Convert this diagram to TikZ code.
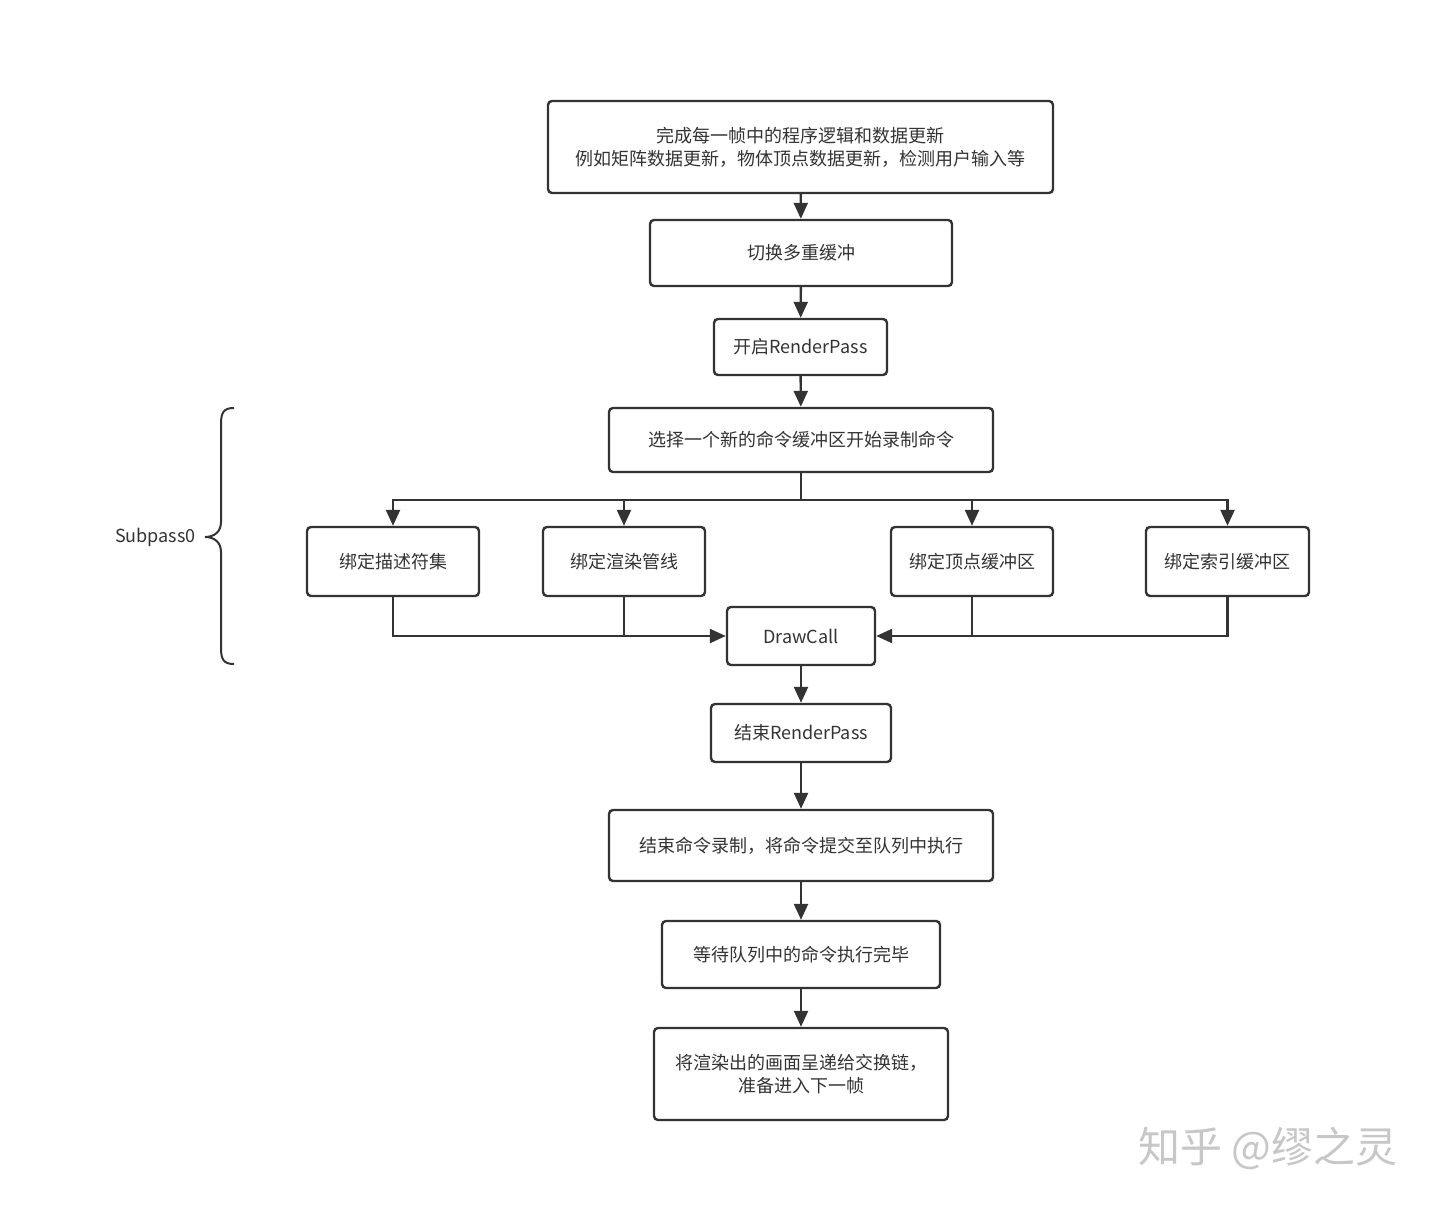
\documentclass[tikz,border=0pt]{standalone}
\usepackage{fontspec}
\setmainfont{Noto Sans CJK SC}
\newfontfamily\cjk{Noto Sans CJK SC}
\usetikzlibrary{arrows.meta}
\definecolor{ln}{HTML}{333333}
\begin{document}
\begin{tikzpicture}[x=1pt,y=-1pt,
  box/.style={draw=ln,line width=2.4pt,rounded corners=4pt,fill=white,inner sep=0pt,align=center,font=\fontsize{18}{23}\selectfont,text=ln},
  conn/.style={draw=ln,line width=2.4pt},
  arr/.style={conn,-{Triangle[length=16pt,width=14pt]}}]
\useasboundingbox (0,0) rectangle (1440,1206);
\fill[white] (0,0) rectangle (1440,1206);
\node[box,minimum width=505pt,minimum height=92pt] (n1) at (800.5,147) {完成每一帧中的程序逻辑和数据更新\\例如矩阵数据更新，物体顶点数据更新，检测用户输入等};
\node[box,minimum width=302pt,minimum height=66pt] (n2) at (801,253) {切换多重缓冲};
\node[box,minimum width=173pt,minimum height=56pt] (n3) at (800.5,347) {开启RenderPass};
\node[box,minimum width=384pt,minimum height=64pt] (n4) at (801,440) {选择一个新的命令缓冲区开始录制命令};
\node[box,minimum width=172pt,minimum height=69pt] (b1) at (393,561.5) {绑定描述符集};
\node[box,minimum width=162pt,minimum height=69pt] (b2) at (624,561.5) {绑定渲染管线};
\node[box,minimum width=162pt,minimum height=69pt] (b3) at (972,561.5) {绑定顶点缓冲区};
\node[box,minimum width=163pt,minimum height=69pt] (b4) at (1227.5,561.5) {绑定索引缓冲区};
\node[box,minimum width=148pt,minimum height=58pt] (dc) at (801,636) {DrawCall};
\node[box,minimum width=180pt,minimum height=58pt] (n5) at (801,733) {结束RenderPass};
\node[box,minimum width=384pt,minimum height=71pt] (n6) at (801,845.5) {结束命令录制，将命令提交至队列中执行};
\node[box,minimum width=278pt,minimum height=67pt] (n7) at (801,954.5) {等待队列中的命令执行完毕};
\node[box,minimum width=294pt,minimum height=92pt] (n8) at (801,1074) {将渲染出的画面呈递给交换链，\\准备进入下一帧};
\draw[arr] (n1) -- (n2);
\draw[arr] (n2) -- (n3);
\draw[arr] (n3) -- (n4);
\coordinate (br) at (801,500);
\draw[conn] (n4.south) -- (br);
\draw[arr] (br) -| (b1.north);
\draw[arr] (br) -| (b2.north);
\draw[arr] (br) -| (b3.north);
\draw[arr] (br) -| (b4.north);
\draw[arr] (b1.south) |- (dc.west);
\draw[conn] (b2.south) -- (b2.south |- dc.west);
\draw[arr] (b4.south) |- (dc.east);
\draw[conn] (b3.south) -- (b3.south |- dc.east);
\draw[arr] (dc) -- (n5);
\draw[arr] (n5) -- (n6);
\draw[arr] (n6) -- (n7);
\draw[arr] (n7) -- (n8);
\draw[conn,line width=2pt] (234,408) .. controls (224,408) and (221,412) .. (221,424) -- (221,522)
  .. controls (221,532) and (214,537) .. (205,537)
  .. controls (214,537) and (221,542) .. (221,552) -- (221,648)
  .. controls (221,660) and (224,664) .. (234,664);
\node[font=\fontsize{18}{23}\selectfont,text=ln,anchor=east,inner sep=0pt] (sp) at (196,537) {Subpass0};
\node[font=\fontsize{42}{46}\selectfont,text=black!22,anchor=center,inner sep=0pt] (wm) at (1268,1148) {知乎 @缪之灵};
\end{tikzpicture}
\end{document}
